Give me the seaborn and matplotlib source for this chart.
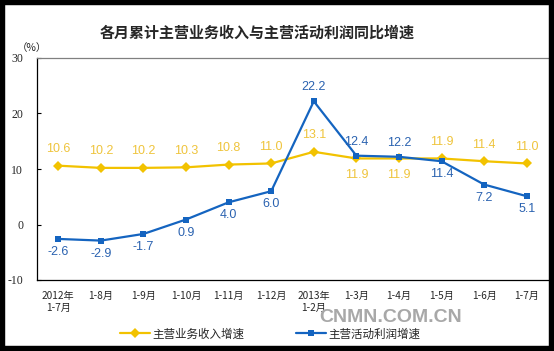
import matplotlib
matplotlib.use("Agg")
import matplotlib.pyplot as plt
import seaborn as sns
import pandas as pd
from matplotlib.patches import Rectangle

categories = ["2012年\n1-7月", "1-8月", "1-9月", "1-10月", "1-11月", "1-12月",
              "2013年\n1-2月", "1-3月", "1-4月", "1-5月", "1-6月", "1-7月"]
revenue = [10.6, 10.2, 10.2, 10.3, 10.8, 11.0, 13.1, 11.9, 11.9, 11.9, 11.4, 11.0]
profit = [-2.6, -2.9, -1.7, 0.9, 4.0, 6.0, 22.2, 12.4, 12.2, 11.4, 7.2, 5.1]
series_names = ["主营业务收入增速", "主营活动利润增速"]
title = "各月累计主营业务收入与主营活动利润同比增速"
yticks = [-10, 0, 10, 20, 30]

rev_pos = ["a", "a", "a", "a", "a", "a", "a", "b", "b", "a", "a", "a"]
pro_pos = ["b", "b", "b", "b", "b", "b", "a", "a", "a", "b", "b", "b"]

sns.set_theme(style="white")
plt.rcParams["font.family"] = ["Noto Sans CJK SC", "DejaVu Sans"]

df = pd.DataFrame({
    "idx": list(range(len(categories))) * 2,
    "value": revenue + profit,
    "series": [series_names[0]] * len(categories) + [series_names[1]] * len(categories),
})

fig = plt.figure(figsize=(5.54, 3.51), dpi=100)
ax = fig.add_axes([37 / 554, (351 - 280) / 351, (548 - 37) / 554, (280 - 58) / 351])

YEL = "#F2C200"
BLU = "#1464C0"
sns.lineplot(data=df, x="idx", y="value", hue="series", style="series",
             palette=[YEL, BLU], markers=["D", "s"], dashes=False,
             linewidth=1.6, markersize=5, markeredgewidth=0, ax=ax, legend=True)

ax.set_xlim(-0.5, len(categories) - 0.5)
ax.set_ylim(-10, 30)
ax.set_yticks(yticks)
ax.set_yticklabels([str(v) for v in yticks], family="Liberation Serif", fontsize=8.5)
ax.set_xticks([i + 0.5 for i in range(len(categories) - 1)])
ax.set_xticklabels([])
ax.set_xticks(list(range(len(categories))), minor=True)
ax.set_xticklabels(categories, minor=True, fontsize=7.3, linespacing=1.25)
ax.tick_params(axis="x", which="major", direction="in", length=3, width=0.8, color="black")
ax.tick_params(axis="x", which="minor", length=0, pad=8)
ax.tick_params(axis="y", direction="in", length=3, width=0.8, color="black", pad=10, left=True)
ax.set_xlabel("")
ax.set_ylabel("")

for s in ["left", "bottom"]:
    ax.spines[s].set_color("black")
    ax.spines[s].set_linewidth(0.9)
ax.spines["top"].set_color("#808080")
ax.spines["top"].set_linewidth(0.9)
ax.spines["right"].set_visible(False)

for i, (v, p) in enumerate(zip(revenue, rev_pos)):
    ax.annotate(f"{v:.1f}", (i, v), xytext=(0, 12 if p == "a" else -12), textcoords="offset points",
                ha="center", va="center", color="#EFC43C", fontsize=9, family="Liberation Sans")
for i, (v, p) in enumerate(zip(profit, pro_pos)):
    ax.annotate(f"{v:.1f}", (i, v), xytext=(0, 10 if p == "a" else -9.5), textcoords="offset points",
                ha="center", va="center", color="#2A62B0", fontsize=9, family="Liberation Sans")

handles, labels = ax.get_legend_handles_labels()
ax.legend_.remove()
fig.legend(handles, labels, loc="center", bbox_to_anchor=(270 / 554, 17 / 351), ncol=2,
           frameon=False, fontsize=8.3, handlelength=2.6, handletextpad=0.2, columnspacing=4.5)

fig.text(257 / 554, 1 - 33 / 351, title, ha="center", va="center", fontsize=10.8, fontweight="bold")
fig.text(32 / 554, 1 - 48 / 351, "（%）", ha="center", va="center", fontsize=7.5)
fig.text(391 / 554, 1 - 318 / 351, "CNMN.COM.CN", ha="center", va="center", fontsize=14,
         fontweight="bold", family="Liberation Sans", color="#A8A8A8")

fig.patches.append(Rectangle((0, 0), 1, 1, transform=fig.transFigure, fill=False,
                             edgecolor="black", linewidth=7.5, zorder=10))

fig.savefig("out.png", dpi=100)
